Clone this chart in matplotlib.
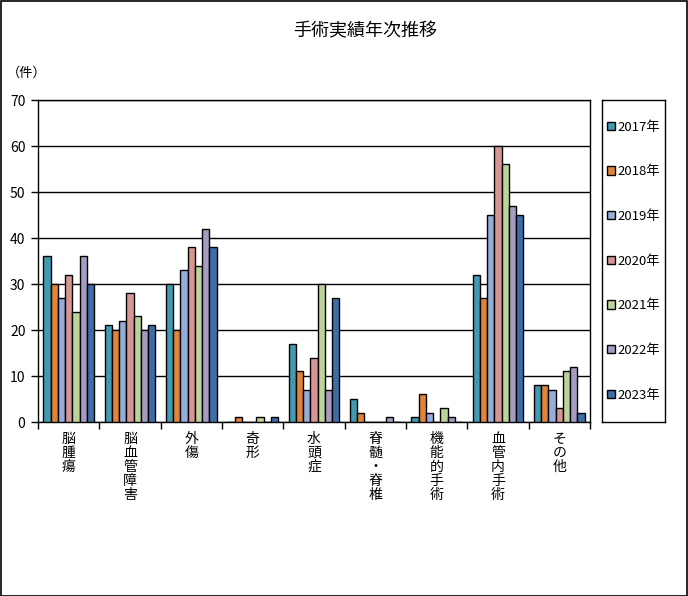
import matplotlib
matplotlib.use("Agg")
import matplotlib.pyplot as plt
import numpy as np
from matplotlib.patches import Rectangle

plt.rcParams['font.family'] = ['Noto Sans CJK JP', 'DejaVu Sans']

categories = ["脳腫瘍", "脳血管障害", "外傷", "奇形", "水頭症", "脊髄・脊椎", "機能的手術", "血管内手術", "その他"]
years = ["2017年", "2018年", "2019年", "2020年", "2021年", "2022年", "2023年"]
v2017 = [36, 21, 30, 0, 17, 5, 1, 32, 8]
v2018 = [30, 20, 20, 1, 11, 2, 6, 27, 8]
v2019 = [27, 22, 33, 0, 7, 0, 2, 45, 7]
v2020 = [32, 28, 38, 0, 14, 0, 0, 60, 3]
v2021 = [24, 23, 34, 1, 30, 0, 3, 56, 11]
v2022 = [36, 20, 42, 0, 7, 1, 1, 47, 12]
v2023 = [30, 21, 38, 1, 27, 0, 0, 45, 2]
series = [v2017, v2018, v2019, v2020, v2021, v2022, v2023]
colors = ["#4299B0", "#E0843A", "#94AED9", "#D79594", "#BCD39A", "#A79BC2", "#3F6DA8"]
yticks = [0, 10, 20, 30, 40, 50, 60, 70]

W, H = 688, 596
fig = plt.figure(figsize=(W / 100, H / 100), dpi=100)
fig.patches.append(Rectangle((0.5 / W, 0.5 / H), 1 - 1.5 / W, 1 - 1.5 / H, transform=fig.transFigure,
                             fill=False, edgecolor="black", linewidth=1.2))

ax = fig.add_axes([38 / W, 1 - 422 / H, (590 - 38) / W, (422 - 100) / H])
x = np.arange(len(categories))
bw = 0.118
handles = []
for i, (vals, c) in enumerate(zip(series, colors)):
    off = (i - 3) * bw
    b = ax.bar(x + off, vals, width=bw, color=c, edgecolor="black", linewidth=1.0, zorder=3, label=years[i])
    handles.append(b)

ax.set_xlim(-0.5, len(categories) - 0.5)
ax.set_ylim(0, 70)
ax.set_yticks(yticks)
ax.yaxis.grid(True, color="black", linewidth=1.0, zorder=0)
for s in ax.spines.values():
    s.set_color("black")
    s.set_linewidth(1.0)
ax.tick_params(axis="y", direction="out", length=5, width=1, labelsize=10, pad=4)
ax.set_xticks(x)
ax.set_xticklabels(["\n".join(c) for c in categories], fontsize=10, linespacing=1.0, va="top")
ax.tick_params(axis="x", which="major", length=0, pad=7)
ax.set_xticks(np.arange(-0.5, len(categories), 1), minor=True)
ax.tick_params(axis="x", which="minor", direction="out", length=5, width=1)

fig.text(365 / W, 1 - 31 / H, "手術実績年次推移", ha="center", va="center", fontsize=13)
fig.text(27 / W, 1 - 73 / H, "（件）", ha="center", va="center", fontsize=9.5)

lax = fig.add_axes([602 / W, 1 - 422 / H, 63 / W, 322 / H])
lax.set_xticks([]); lax.set_yticks([])
for s in lax.spines.values():
    s.set_color("black"); s.set_linewidth(1.0)
lax.legend(handles=handles, labels=years, loc="center", frameon=False, fontsize=9.5,
           handlelength=0.6, handleheight=0.6, handletextpad=0.2, labelspacing=2.4,
           borderaxespad=0, borderpad=0)

fig.savefig("out.png", dpi=100)
